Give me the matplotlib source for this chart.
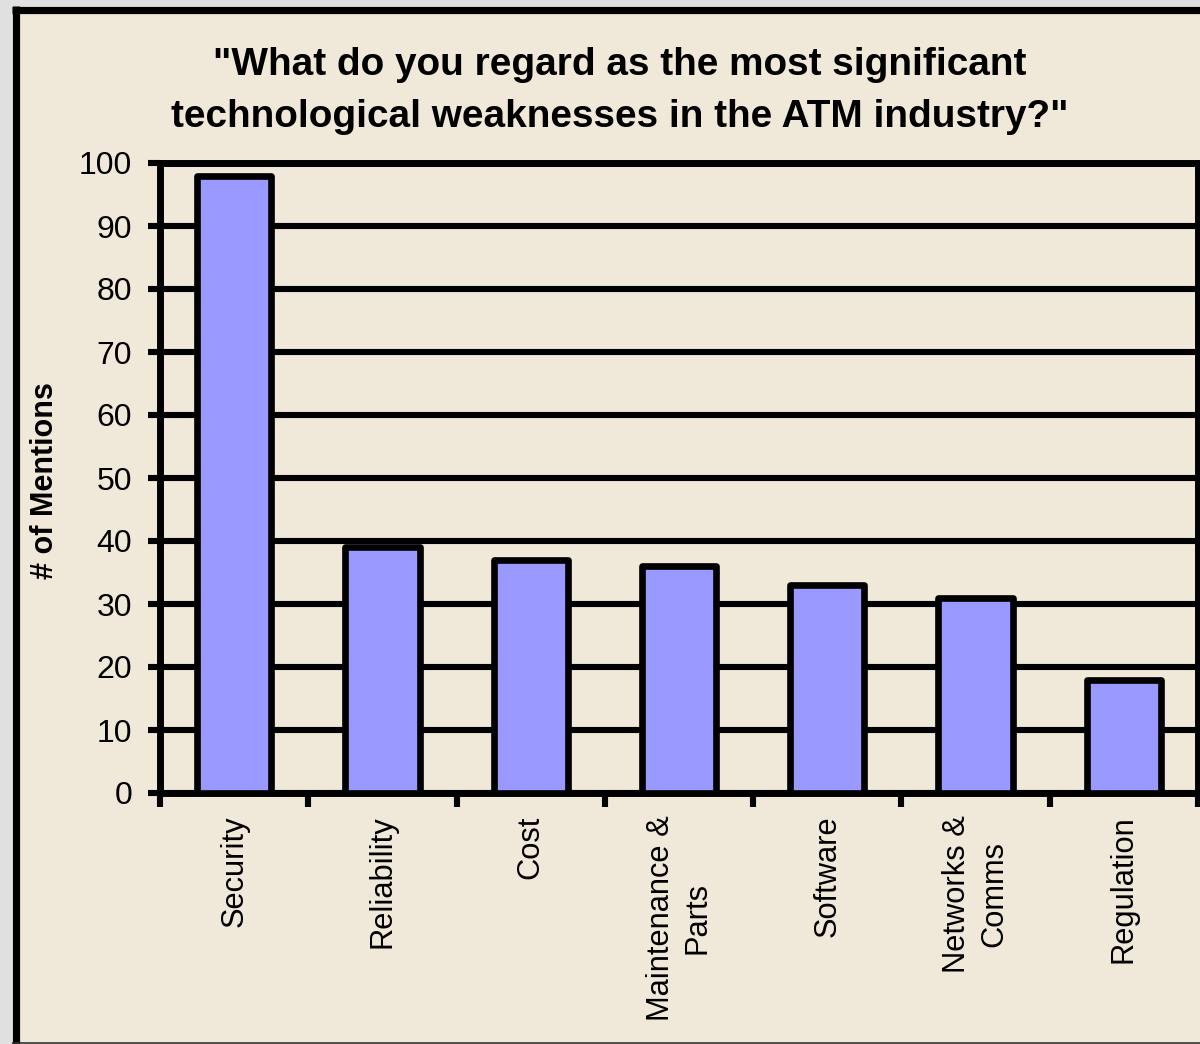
import numpy as np
import matplotlib.pyplot as plt
from matplotlib.lines import Line2D
from matplotlib.patches import Rectangle

categories = ["Security", "Reliability", "Cost", "Maintenance &\nParts",
              "Software", "Networks &\nComms", "Regulation"]
mentions = [98, 39, 37, 36, 33, 31, 18]
yticks = [0, 10, 20, 30, 40, 50, 60, 70, 80, 90, 100]

bg = "#F0E8D9"
barcol = "#9999FF"

plt.rcParams['font.family'] = ['Liberation Sans', 'DejaVu Sans']

W, H = 1200, 1044
fig = plt.figure(figsize=(W / 100, H / 100), dpi=100, facecolor="#E0E0E0")

# outer chart frame
fig.patches.append(Rectangle((12 / W, 1 - 1043 / H), 1.2, 1043 / H - 6 / H,
                             transform=fig.transFigure, facecolor=bg,
                             edgecolor="none", zorder=0))
fig.lines.append(Line2D([15.5 / W, 15.5 / W], [0, 1 - 6 / H], transform=fig.transFigure,
                        color="black", lw=5.2, solid_capstyle="butt", zorder=0.5))
fig.lines.append(Line2D([12 / W, 1.0], [1 - 9.5 / H, 1 - 9.5 / H], transform=fig.transFigure,
                        color="black", lw=5.2, solid_capstyle="butt", zorder=0.5))
fig.lines.append(Line2D([12 / W, 1.0], [1 - 1043 / H, 1 - 1043 / H], transform=fig.transFigure,
                        color="#333333", lw=1.2, solid_capstyle="butt", zorder=0.5))

ax = fig.add_axes([160 / W, 1 - 793 / H, (1198 - 160) / W, (793 - 163) / H])
ax.set_zorder(2)
ax.set_facecolor(bg)

x = np.arange(len(categories))
bars = ax.bar(x, mentions, width=0.5, color=barcol, edgecolor="black",
              linewidth=4.8, zorder=3)
for b in bars:
    b.set_joinstyle("round")

ax.set_xlim(-0.5, len(categories) - 0.5)
ax.set_ylim(0, 100)
ax.set_yticks(yticks)
ax.tick_params(axis="y", labelsize=23, length=9, width=4.4, direction="out", pad=11)
ax.yaxis.grid(True, color="black", linewidth=4.4, zorder=1)
ax.set_axisbelow(True)

ax.set_xticks(x)
ax.set_xticklabels(categories, rotation=90, fontsize=22.2, va="top", ha="center",
                   multialignment="center", linespacing=1.3)
ax.tick_params(axis="x", which="major", length=0, pad=16)
ax.set_xticks(np.arange(len(categories) + 1) - 0.5, minor=True)
ax.tick_params(axis="x", which="minor", length=10, width=4.4, direction="out")

for s in ["left", "bottom", "top", "right"]:
    ax.spines[s].set_linewidth(5)
    ax.spines[s].set_color("black")

fig.text(45 / W, 1 - 481 / H, "# of Mentions", rotation=90, fontsize=22,
         fontweight="bold", ha="center", va="center")
fig.text(620 / W, 1 - 91 / H,
         "\"What do you regard as the most significant\ntechnological weaknesses in the ATM industry?\"",
         fontsize=27.9, fontweight="bold", ha="center", va="center", linespacing=1.6)

fig.savefig("out.png", dpi=100, facecolor=fig.get_facecolor())
